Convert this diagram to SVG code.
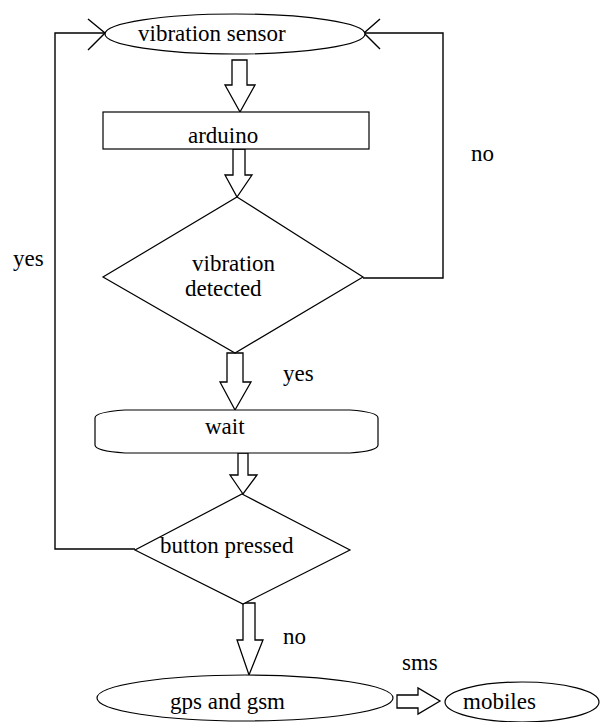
<svg xmlns="http://www.w3.org/2000/svg" width="603" height="722" viewBox="0 0 603 722">
<style>
.s{fill:#fff;stroke:#000;stroke-width:1.2}
.l{fill:none;stroke:#000;stroke-width:1.4}
.b{fill:#fff;stroke:#000;stroke-width:1.3;stroke-linejoin:miter}
text{font-family:"Liberation Serif","Times New Roman",serif;font-size:23px;fill:#000}
</style>
<rect width="603" height="722" fill="#fff"/>
<g id="connectors">
<polyline class="l" points="135,549 55,549 55,33 105,33"/>
<polyline class="l" points="88,19 105,33 88,50"/>
<polyline class="l" points="363,278 443,278 443,33 364,33"/>
<polyline class="l" points="380,19 364,33 380,49"/>
<polygon class="b" points="232,60 247,60 247,85 255,85 240,112 225,85 232,85"/>
<polygon class="b" points="233,149 245,149 245,175 252,175 237,197 225,175 233,175"/>
<polygon class="b" points="227,353 243,353 243,382 251,382 235,410 220,382 227,382"/>
<polygon class="b" points="238,453 248,453 248,475 257,475 243,494 230,475 238,475"/>
<polygon class="b" points="243,603 255,603 255,640 263,640 249,675 237,640 243,640"/>
<polygon class="b" points="397,695 418,695 418,688 440,701 418,714 418,708 397,708"/>
<text x="13" y="266">yes</text>
<text x="471" y="161">no</text>
<text x="283" y="381">yes</text>
<text x="283" y="644">no</text>
<text x="402" y="670">sms</text>
</g>
<g id="vibration-sensor">
<ellipse class="s" cx="235" cy="34" rx="130" ry="20"/>
<text x="138" y="41">vibration sensor</text>
</g>
<g id="arduino">
<rect class="s" x="103" y="112" width="266" height="37"/>
<text x="188" y="143">arduino</text>
</g>
<g id="vibration-detected">
<polygon class="s" points="237,197 363,277 235,353 103,277"/>
<text x="192" y="271">vibration</text>
<text x="185" y="296">detected</text>
</g>
<g id="wait">
<path class="s" d="M125,410 L350,410 Q378,412 378,418 L378,445 Q378,451 350,453 L125,453 Q95,451 95,445 L95,418 Q95,412 125,410 Z"/>
<text x="205" y="434">wait</text>
</g>
<g id="button-pressed">
<polygon class="s" points="242,494 350,550 243,604 135,550"/>
<text x="160" y="553">button pressed</text>
</g>
<g id="gps-gsm">
<ellipse class="s" cx="245" cy="698" rx="148" ry="23"/>
<text x="170" y="709">gps and gsm</text>
</g>
<g id="mobiles">
<ellipse class="s" cx="522" cy="702" rx="77" ry="20"/>
<text x="463" y="709">mobiles</text>
</g>
</svg>
